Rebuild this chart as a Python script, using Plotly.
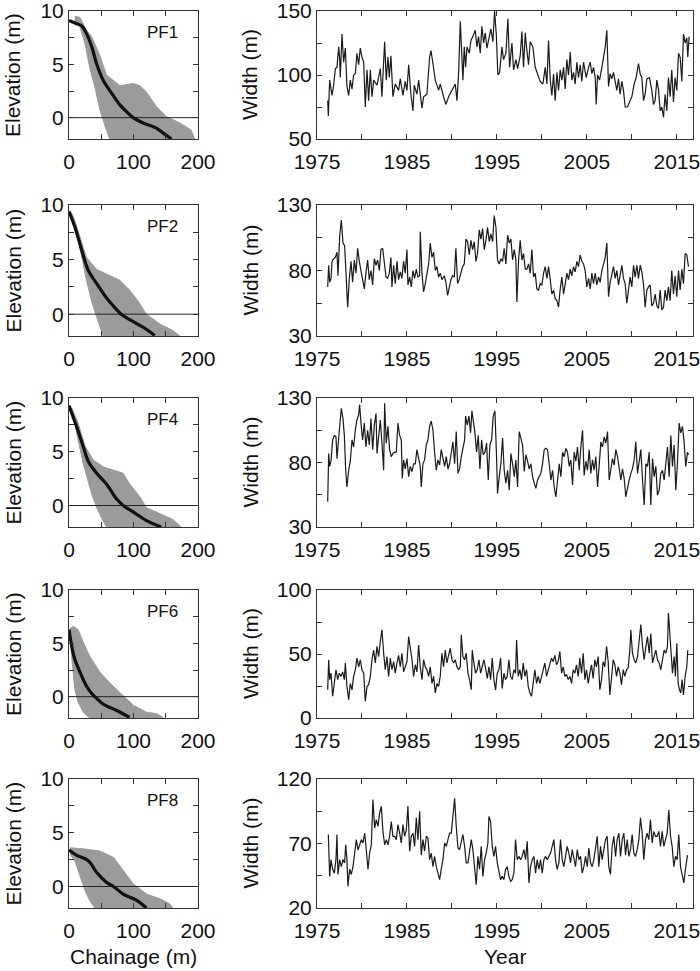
import plotly.graph_objects as go

# ---------------- Width time series (year, width m) ----------------
pf1_year = [1976.19,1976.26,1976.41,1976.67,1976.85,1977.04,1977.22,1977.41,1977.52,1977.59,1977.78,1977.96,1978.15,1978.33,1978.52,1978.70,1978.89,1979.07,1979.26,1979.44,1979.63,1979.81,1980.00,1980.19,1980.37,1980.56,1980.74,1980.93,1981.11,1981.30,1981.67,1982.04,1982.22,1982.41,1982.52,1982.70,1982.89,1983.04,1983.22,1983.44,1983.70,1984.07,1984.26,1984.56,1984.81,1985.00,1985.19,1985.44,1985.67,1985.81,1986.11,1986.30,1986.67,1986.85,1987.22,1987.52,1987.67,1987.89,1988.15,1988.52,1988.70,1989.07,1989.33,1989.63,1990.00,1990.37,1990.56,1990.74,1990.93,1991.11,1991.22,1991.37,1991.52,1991.67,1991.93,1992.11,1992.33,1992.59,1992.78,1992.96,1993.15,1993.33,1993.52,1993.70,1993.89,1994.07,1994.33,1994.56,1994.74,1994.93,1995.11,1995.30,1995.56,1995.74,1996.00,1996.22,1996.41,1996.67,1996.85,1997.11,1997.30,1997.59,1997.78,1997.96,1998.15,1998.33,1998.52,1998.70,1999.00,1999.26,1999.52,1999.81,2000.11,2000.37,2000.56,2000.74,2000.93,2001.11,2001.30,2001.48,2001.67,2001.85,2002.04,2002.22,2002.41,2002.59,2002.78,2002.96,2003.15,2003.33,2003.52,2003.70,2003.89,2004.07,2004.26,2004.44,2004.63,2004.93,2005.19,2005.37,2005.56,2005.74,2005.93,2006.04,2006.19,2006.41,2006.67,2006.85,2007.04,2007.22,2007.41,2007.59,2007.78,2007.96,2008.15,2008.33,2008.52,2008.70,2008.89,2009.07,2009.26,2009.52,2009.81,2010.00,2010.26,2010.48,2010.74,2010.93,2011.11,2011.30,2011.48,2011.67,2011.96,2012.22,2012.41,2012.59,2012.78,2012.96,2013.15,2013.33,2013.52,2013.70,2013.89,2014.07,2014.26,2014.44,2014.63,2014.81,2015.00,2015.19,2015.37,2015.56,2015.74,2015.93,2016.11,2016.22,2016.37]
pf1_width = [80,68,96,84,92,105,106,122,113,98,132,110,121,91,84,96,89,100,101,117,108,121,114,110,75,104,80,104,83,96,92,105,83,109,126,96,114,98,115,83,93,88,97,84,95,88,108,85,72,92,85,96,74,83,85,114,119,109,96,88,93,83,77,83,88,93,80,101,142,119,96,122,106,122,117,127,130,135,122,130,117,138,125,133,121,127,136,126,150,132,100,102,122,112,117,144,106,125,104,112,105,115,134,106,133,119,108,126,122,106,100,95,93,106,93,127,96,84,101,80,102,88,104,96,106,89,112,100,118,96,102,93,110,98,108,95,110,98,106,110,101,106,98,77,100,96,106,114,122,135,91,101,97,102,93,88,97,85,95,88,75,75,80,83,93,98,109,101,98,80,85,97,98,88,77,80,96,89,72,75,67,85,72,98,83,104,79,98,88,117,114,95,132,125,129,114,130]

pf2_year = [1976.19,1976.30,1976.41,1976.56,1976.67,1976.85,1977.04,1977.22,1977.33,1977.52,1977.70,1977.89,1978.07,1978.26,1978.41,1978.59,1978.78,1978.96,1979.15,1979.33,1979.52,1979.70,1979.89,1980.07,1980.26,1980.44,1980.63,1980.81,1981.00,1981.19,1981.37,1981.56,1981.74,1981.93,1982.11,1982.30,1982.48,1982.67,1982.85,1983.04,1983.22,1983.33,1983.52,1983.70,1983.89,1984.07,1984.26,1984.44,1984.63,1984.81,1985.00,1985.11,1985.30,1985.48,1985.67,1985.85,1986.04,1986.22,1986.41,1986.48,1986.67,1986.85,1987.04,1987.22,1987.41,1987.59,1987.78,1987.96,1988.15,1988.33,1988.52,1988.70,1988.89,1989.15,1989.33,1989.52,1989.70,1989.89,1990.07,1990.26,1990.44,1990.63,1990.81,1991.00,1991.19,1991.37,1991.56,1991.74,1991.93,1992.11,1992.30,1992.48,1992.67,1992.85,1993.04,1993.22,1993.41,1993.59,1993.78,1993.96,1994.15,1994.33,1994.52,1994.70,1994.89,1995.07,1995.26,1995.44,1995.63,1995.81,1996.00,1996.19,1996.37,1996.56,1996.74,1996.93,1997.11,1997.22,1997.41,1997.59,1997.78,1997.96,1998.15,1998.33,1998.52,1998.70,1998.89,1999.07,1999.26,1999.44,1999.63,1999.81,2000.00,2000.19,2000.37,2000.56,2000.74,2000.93,2001.11,2001.30,2001.48,2001.67,2001.85,2002.04,2002.22,2002.41,2002.59,2002.78,2002.96,2003.15,2003.33,2003.52,2003.70,2003.89,2004.07,2004.26,2004.44,2004.63,2004.81,2005.00,2005.19,2005.37,2005.56,2005.74,2005.93,2006.11,2006.30,2006.48,2006.67,2006.85,2007.04,2007.22,2007.41,2007.59,2007.78,2007.96,2008.15,2008.33,2008.52,2008.70,2008.89,2009.07,2009.26,2009.44,2009.63,2009.81,2010.00,2010.19,2010.37,2010.56,2010.74,2010.93,2011.11,2011.30,2011.48,2011.67,2011.85,2012.04,2012.22,2012.41,2012.59,2012.78,2012.96,2013.15,2013.33,2013.52,2013.70,2013.89,2014.07,2014.26,2014.44,2014.63,2014.81,2015.00,2015.19,2015.37,2015.56,2015.74,2015.93,2016.11,2016.30]
pf2_width = [67.5,84,71,74,87,89,90,94,76,106,118.5,101,99,65,52,74,87,71,88,78,97,87,80,75,66,78,88,73,80,69,89,84,88,80,96,97,85,75,74,78,90,67.5,84,70,87,73,79,74,87,78,96,69,75,67.5,80,74,81,75,76,109.6,78,63.7,70,79,85,101,90,94,80,83,75,78,73,76,71,61,67.5,73,76,75,97,70,73,78,83,85,104,102,92,103,96,102,87,93,111,104,112,96,103,113,102,108,102,122,113,88,85,89,87,97,85,107,101,104,88,96,88,56,88,103,88,93,81,81,85,78,96,75,78,66,65,70,69,78,83,74,83,73,62,65,58.5,57,52,66,75,62,70,78,73,81,76,83,79,87,83,92,87,85,80,67.5,74,66,78,70,78,69,75,71,80,85,90,101,60,71,76,83,74,80,69,78,84,74,70,55,67.5,75,67.5,84,75,84,74,84,79,69,52,65,67.5,69,53,55,62,53,51,65,50,52,65,57,67.5,57,80,62,76,60,80,65,81,70,93,92,83]

pf4_year = [1976.19,1976.30,1976.41,1976.56,1976.74,1976.93,1977.11,1977.22,1977.41,1977.59,1977.70,1977.89,1978.04,1978.19,1978.33,1978.52,1978.70,1978.89,1979.07,1979.26,1979.44,1979.63,1979.74,1979.89,1980.07,1980.26,1980.44,1980.63,1980.81,1981.00,1981.19,1981.37,1981.56,1981.67,1981.85,1982.04,1982.22,1982.41,1982.52,1982.70,1982.89,1983.07,1983.26,1983.44,1983.63,1983.81,1984.00,1984.19,1984.37,1984.48,1984.63,1984.81,1985.00,1985.19,1985.37,1985.56,1985.74,1985.93,1986.11,1986.30,1986.48,1986.59,1986.78,1986.96,1987.15,1987.33,1987.52,1987.70,1987.89,1988.07,1988.26,1988.44,1988.63,1988.81,1989.00,1989.19,1989.37,1989.56,1989.74,1989.93,1990.11,1990.30,1990.48,1990.67,1990.85,1991.04,1991.22,1991.41,1991.52,1991.70,1991.89,1992.07,1992.22,1992.37,1992.56,1992.74,1992.93,1993.11,1993.30,1993.48,1993.67,1993.85,1994.04,1994.22,1994.41,1994.59,1994.78,1994.96,1995.07,1995.26,1995.44,1995.63,1995.81,1996.00,1996.19,1996.37,1996.56,1996.74,1996.93,1997.11,1997.30,1997.48,1997.67,1997.85,1998.04,1998.22,1998.41,1998.59,1998.78,1998.96,1999.15,1999.33,1999.52,1999.70,1999.89,2000.07,2000.26,2000.44,2000.63,2000.81,2001.00,2001.19,2001.37,2001.56,2001.74,2001.93,2002.11,2002.30,2002.48,2002.67,2002.85,2003.04,2003.22,2003.41,2003.59,2003.78,2003.96,2004.15,2004.33,2004.52,2004.70,2004.89,2005.07,2005.26,2005.44,2005.63,2005.81,2006.00,2006.19,2006.37,2006.56,2006.74,2006.93,2007.11,2007.30,2007.48,2007.67,2007.85,2008.04,2008.22,2008.41,2008.59,2008.78,2008.96,2009.15,2009.33,2009.52,2009.70,2009.89,2010.07,2010.26,2010.44,2010.63,2010.81,2011.00,2011.19,2011.37,2011.56,2011.74,2011.93,2012.11,2012.30,2012.48,2012.67,2012.85,2013.04,2013.22,2013.41,2013.59,2013.78,2013.96,2014.15,2014.33,2014.52,2014.70,2014.89,2015.07,2015.26,2015.44,2015.63,2015.81,2016.00,2016.19,2016.30]
pf4_width = [49.5,87,77,81,97.5,101,100,83,99,113,122,114,101,74,61,74,81,97.5,92,105,113,117,125,110.5,97.5,110.5,92,105,93.6,114,90,109,118,87,103,113,95,74,126,95,108,90,84.5,87,88,88,110.5,101,97.5,67.6,82,75,83,69,77,73,79,79,90,82,77,61,79,82,93.6,97.5,108,112,105,88,74,82,78,90,82,77,84.5,75,79,87,96,79,104,71.6,75,84.5,92,97.5,116,109,116,103,120,112,103,88,101,75,97.5,86,88,95,66.4,93.6,97.5,116,120,84.5,56,69,79,99,74,64,74,58.6,87,79,69,82,61,104,97.5,93.6,73,86,81,75,79,69,64,60,66.4,69,71.6,79,90,91,90,79,66.4,74,61,53.4,69,79,69,88,84.5,91,88,77,82,62.5,88,81,92,74,92,105,70,81,74,90,71.6,82,74,84.5,61,82,96,92,99.9,95,104,66.4,74,83,78,90,84.5,74,66.4,75,67.6,53.4,61,66.4,71.6,75,82,96,71.6,79,90,66.4,47,79,77,88,47,83,69,77,54.7,58.6,71.6,74,66.4,79,92,69,101,77,93.6,58.6,79,110.5,103,108,96,77,88,86]

pf6_year = [1976.19,1976.30,1976.41,1976.56,1976.74,1976.93,1977.11,1977.30,1977.48,1977.67,1977.85,1978.04,1978.15,1978.33,1978.52,1978.70,1978.89,1979.07,1979.26,1979.44,1979.63,1979.81,1980.00,1980.19,1980.37,1980.56,1980.74,1980.93,1981.11,1981.30,1981.48,1981.67,1981.85,1982.04,1982.22,1982.41,1982.59,1982.78,1982.96,1983.15,1983.33,1983.52,1983.70,1983.89,1984.07,1984.26,1984.44,1984.63,1984.81,1985.00,1985.19,1985.37,1985.56,1985.74,1985.93,1986.11,1986.30,1986.48,1986.67,1986.85,1987.04,1987.22,1987.41,1987.59,1987.78,1987.96,1988.15,1988.33,1988.52,1988.70,1988.89,1989.07,1989.26,1989.44,1989.63,1989.81,1990.00,1990.19,1990.37,1990.56,1990.74,1990.93,1991.04,1991.22,1991.41,1991.59,1991.78,1991.96,1992.15,1992.26,1992.44,1992.63,1992.81,1993.00,1993.19,1993.37,1993.56,1993.74,1993.93,1994.11,1994.30,1994.48,1994.67,1994.85,1995.04,1995.22,1995.41,1995.59,1995.78,1995.96,1996.15,1996.33,1996.52,1996.70,1996.89,1997.07,1997.19,1997.37,1997.56,1997.74,1997.93,1998.11,1998.30,1998.48,1998.67,1998.85,1999.04,1999.22,1999.41,1999.59,1999.78,1999.96,2000.15,2000.33,2000.52,2000.70,2000.89,2001.07,2001.26,2001.44,2001.63,2001.81,2002.00,2002.19,2002.37,2002.56,2002.74,2002.93,2003.11,2003.30,2003.48,2003.67,2003.85,2004.04,2004.22,2004.41,2004.59,2004.78,2004.96,2005.15,2005.33,2005.52,2005.70,2005.89,2006.07,2006.26,2006.44,2006.63,2006.81,2007.00,2007.19,2007.37,2007.56,2007.74,2007.93,2008.11,2008.30,2008.48,2008.67,2008.85,2009.04,2009.22,2009.41,2009.59,2009.78,2009.89,2010.07,2010.26,2010.44,2010.63,2010.81,2011.00,2011.19,2011.37,2011.56,2011.74,2011.93,2012.11,2012.30,2012.48,2012.67,2012.85,2013.04,2013.22,2013.41,2013.59,2013.78,2013.96,2014.07,2014.22,2014.37,2014.52,2014.70,2014.85,2015.00,2015.15,2015.30,2015.44,2015.59,2015.74,2015.93,2016.11,2016.22]
pf6_width = [22,45.5,30,35,17,27,37.7,30,35,32.5,36,30,43,24.7,14.3,27,22,32.5,37.7,46.8,40,45.5,37.7,35,13,24.7,26,32.5,45.5,53,43,56,48,60,69,50.6,37.7,48,32.5,46.8,37.7,44,35,43,49,40,50.6,36,40,44,63.6,56,45.5,32.5,41.6,36,57,40,30,45.5,40,37.7,32.5,40,27,32.5,19.5,27,24.7,32.5,50.6,40,53,43,48,54.5,45.5,43,45.5,40,37.7,40,65,48,45.5,50.6,35,30,22,53,43,35,37.7,45.5,35,40,45.5,39,31,40,30,46.8,30,22,35,37.7,46.8,23,35,30,32.5,45.5,32.5,30,37.7,35,61,32.5,37.7,30,43,32.5,37.7,24.7,19.5,17,30,37.7,27,32.5,27,32.5,37.7,43,32.5,37.7,43,46.8,44,49,41.6,44,52,35,40,32.5,34,30,32.5,27,37.7,35,41.6,32.5,46.8,35,50.6,30,37.7,27,35,41.6,31,45.5,40,48,22,30,44,40,56,44,18,32.5,45.5,41.6,32.5,40,35,26,37.7,32.5,37.7,39,53,69,50.6,45.5,43,48,63.6,73,56,45.5,56,63.6,50.6,66,43,48,53,45.5,43,37.7,45.5,53,50.6,56,82,63.6,50.6,35,48,32.5,58.4,27,22,19.5,30,18,32.5,40,53]

pf8_year = [1976.26,1976.33,1976.41,1976.56,1976.74,1976.93,1977.11,1977.22,1977.33,1977.52,1977.70,1977.89,1978.07,1978.19,1978.33,1978.44,1978.63,1978.81,1979.00,1979.19,1979.37,1979.56,1979.74,1979.93,1980.11,1980.30,1980.48,1980.67,1980.85,1981.04,1981.22,1981.41,1981.59,1981.78,1981.96,1982.15,1982.33,1982.52,1982.70,1982.89,1983.07,1983.26,1983.44,1983.63,1983.81,1984.00,1984.19,1984.37,1984.56,1984.74,1984.93,1985.11,1985.30,1985.48,1985.67,1985.85,1986.04,1986.22,1986.41,1986.59,1986.78,1986.96,1987.15,1987.33,1987.52,1987.70,1987.89,1988.07,1988.26,1988.44,1988.63,1988.81,1989.00,1989.19,1989.37,1989.56,1989.74,1989.93,1990.11,1990.30,1990.48,1990.67,1990.85,1991.04,1991.22,1991.41,1991.59,1991.78,1991.96,1992.15,1992.33,1992.52,1992.70,1992.89,1993.07,1993.26,1993.44,1993.63,1993.81,1994.00,1994.11,1994.30,1994.48,1994.67,1994.85,1995.04,1995.22,1995.41,1995.59,1995.78,1995.96,1996.15,1996.33,1996.52,1996.70,1996.89,1997.07,1997.26,1997.44,1997.63,1997.81,1998.00,1998.19,1998.37,1998.56,1998.74,1998.93,1999.11,1999.30,1999.48,1999.67,1999.85,2000.04,2000.22,2000.41,2000.59,2000.78,2000.96,2001.15,2001.33,2001.52,2001.70,2001.89,2002.07,2002.26,2002.44,2002.63,2002.81,2003.00,2003.19,2003.37,2003.56,2003.74,2003.93,2004.11,2004.30,2004.48,2004.67,2004.85,2005.04,2005.22,2005.41,2005.59,2005.78,2005.96,2006.15,2006.33,2006.52,2006.70,2006.89,2007.07,2007.26,2007.44,2007.63,2007.81,2008.00,2008.19,2008.37,2008.56,2008.74,2008.93,2009.11,2009.30,2009.48,2009.67,2009.85,2010.04,2010.22,2010.41,2010.59,2010.78,2010.96,2011.15,2011.33,2011.52,2011.70,2011.89,2012.07,2012.26,2012.44,2012.63,2012.81,2013.00,2013.19,2013.37,2013.56,2013.74,2013.93,2014.11,2014.30,2014.48,2014.67,2014.85,2015.04,2015.22,2015.41,2015.59,2015.78,2015.96,2016.19]
pf8_width = [77,50,44.5,57.5,50,47,57.5,77,46,57.5,52,57.5,55,69,57.5,36.8,50,46,52,62.6,73,65,69,73,70.4,78,65,50,62.6,69,104,82,88.5,83.3,93.6,98.8,79.4,69,73,69,75.6,87,75.6,75.6,73,84.6,78,70.4,84.6,75.6,80.7,99,64,75.6,78,67.8,90,73,95,61,73,64,75.6,74.3,57.5,62.6,52,60,52,46,42,50,57.5,70.4,67.8,73,78,78,91,105,83.3,66.5,65.2,73,77,67.8,55,55,62.6,73,65.2,50,38,60,50,67.8,44.5,57.5,62.6,70.4,91,87,67.8,60,67.8,55,47,42,44.5,42,50,52,44.5,40.7,42,47,73,57.5,60,57.5,60,65.2,57.5,71.7,39.4,52,57.5,60,47,57.5,50,57.5,47,57.5,60,57.5,60,62.6,67.8,73,57.5,50,55,73,57.5,52,60,67.8,62.6,55,65.2,57.5,52,65.2,57.5,60,47,52,60,52,66.5,55,52,57.5,65.2,75.6,52,67.8,57.5,65.2,73,75.6,52,46,67.8,75.6,60,73,78,60,73,78,61,73,60,65.2,77,62.6,60,65.2,73,90,78,57.5,73,78,73,88.5,70.4,79.4,75.6,75.6,79.4,67.8,79.4,67.8,73,78,96,75.6,67.8,52,60,57.5,77,52,46,39.4,50,61]

# ---------------- Beach profiles (chainage m, elevation m) ----------------
pf1_mean_x = [0, 12, 20, 27, 35, 43, 53, 66, 79, 92, 99.5, 115, 136, 146, 159]
pf1_mean_z = [9.1, 8.8, 8.6, 7.9, 6.7, 5.0, 3.5, 2.3, 1.2, 0.4, 0, -0.5, -1.0, -1.45, -2]
pf1_up_x = [9, 17, 25, 35, 48, 58, 79, 99.5, 110, 120, 136, 151, 172, 189, 195]
pf1_up_z = [9.5, 9.4, 8.4, 7.6, 5.8, 4.0, 3.0, 3.2, 3.0, 2.4, 1.0, 0.1, -0.5, -1.15, -2]
pf1_lo_x = [9, 17, 25, 32, 40, 48, 56, 63]
pf1_lo_z = [9.1, 8.5, 6.9, 4.7, 2.9, 0.7, -0.8, -2]

pf2_mean_x = [0, 9, 20, 30, 43, 58, 71, 81, 97, 115, 133]
pf2_mean_z = [9.4, 8.0, 5.8, 4.0, 2.8, 1.5, 0.6, 0, -0.6, -1.2, -1.95]
pf2_up_x = [1.5, 7, 17, 27, 43, 58, 79, 94, 107, 120, 141, 161, 172]
pf2_up_z = [9.5, 8.9, 7.1, 5.2, 4.1, 3.7, 3.1, 2.2, 1.2, 0, -0.9, -1.5, -2]
pf2_lo_x = [1.5, 12, 22, 27, 35, 43, 48, 53]
pf2_lo_z = [9.1, 7.4, 4.6, 3.1, 1.2, -0.3, -1.2, -2]

pf4_mean_x = [0, 12, 22, 30, 43, 58, 74, 84, 99.5, 120, 143]
pf4_mean_z = [9.3, 7.3, 5.5, 4.1, 3.0, 2.0, 0.6, 0, -0.6, -1.4, -2]
pf4_up_x = [4, 14, 25, 38, 53, 69, 84, 94, 110, 120, 141, 161, 174]
pf4_up_z = [9.1, 7.7, 5.5, 4.2, 3.6, 3.3, 3.0, 2.0, 0.8, -0.2, -0.8, -1.3, -2]
pf4_lo_x = [4, 12, 22, 27, 35, 43, 50, 58]
pf4_lo_z = [9.0, 6.7, 3.9, 2.7, 1.1, -0.2, -1.1, -2]

pf6_mean_x = [0, 4, 9, 17, 27, 38, 40, 53, 74, 94]
pf6_mean_z = [6.3, 4.8, 3.5, 2.3, 1.0, 0.1, 0, -0.7, -1.3, -1.95]
pf6_up_x = [1.5, 7, 14, 22, 32, 48, 63, 79, 99.5, 120, 136, 146]
pf6_up_z = [6.4, 6.6, 6.3, 5.1, 3.8, 2.3, 1.3, 0.4, -0.8, -1.45, -1.6, -1.95]
pf6_lo_x = [1.5, 4, 9, 14, 22, 32]
pf6_lo_z = [6.2, 3.8, 0.7, -0.5, -1.45, -2]

pf8_mean_x = [0, 12, 30, 43, 58, 69, 84, 105, 120]
pf8_mean_z = [3.4, 2.9, 2.4, 1.3, 0.4, 0, -0.7, -1.3, -2]
pf8_up_x = [1.5, 22, 48, 69, 84, 99.5, 120, 141, 156, 161]
pf8_up_z = [3.6, 3.5, 3.3, 2.7, 1.5, 0.25, -0.7, -1.15, -1.6, -2]
pf8_lo_x = [1.5, 9, 17, 25, 32, 40]
pf8_lo_z = [3.0, 2.4, 0.9, -0.4, -1.3, -2]

profile_names = ["PF1", "PF2", "PF4", "PF6", "PF8"]
zero_line_x = [0, 200]
zero_line_z = [0, 0]

series = [(pf1_year, pf1_width), (pf2_year, pf2_width), (pf4_year, pf4_width),
          (pf6_year, pf6_width), (pf8_year, pf8_width)]
profiles = [
    (pf1_mean_x, pf1_mean_z, pf1_up_x, pf1_up_z, pf1_lo_x, pf1_lo_z),
    (pf2_mean_x, pf2_mean_z, pf2_up_x, pf2_up_z, pf2_lo_x, pf2_lo_z),
    (pf4_mean_x, pf4_mean_z, pf4_up_x, pf4_up_z, pf4_lo_x, pf4_lo_z),
    (pf6_mean_x, pf6_mean_z, pf6_up_x, pf6_up_z, pf6_lo_x, pf6_lo_z),
    (pf8_mean_x, pf8_mean_z, pf8_up_x, pf8_up_z, pf8_lo_x, pf8_lo_z),
]
width_ticks = [[50, 75, 100, 125, 150], [30, 55, 80, 105, 130], [30, 55, 80, 105, 130],
               [0, 25, 50, 75, 100], [20, 45, 70, 95, 120]]
elev_ticks = [0, 2.5, 5, 7.5, 10]
chain_ticks = [0, 50, 100, 150, 200]
year_ticks = [1975, 1980, 1985, 1990, 1995, 2000, 2005, 2010, 2015]

# ---------------- layout geometry ----------------
W, H = 700, 971
FONT = "Liberation Sans, Arial, Helvetica, sans-serif"
FS = 21
rows_px = [(11, 139), (205, 336), (398, 527), (590, 718), (779, 908)]
left_px = (69, 198)
right_px = (317, 693)

fig = go.Figure()
layout = dict(
    width=W, height=H, margin=dict(l=0, r=0, t=0, b=0, pad=0, autoexpand=False),
    paper_bgcolor="white", plot_bgcolor="white", showlegend=False,
    font=dict(family=FONT, size=FS, color="#111"),
)
annotations = []

def ax_common():
    return dict(showline=True, linecolor="#333", linewidth=1, mirror="ticks",
                ticks="inside", ticklen=5, tickcolor="#333", tickwidth=1,
                showgrid=False, zeroline=False, automargin=False,
                ticklabeloverflow="allow",
                tickfont=dict(family=FONT, size=FS, color="#111"))

for i in range(5):
    top, bot = rows_px[i]
    ydom = [1 - bot / H, 1 - top / H]
    nl = 2 * i + 1
    nr = 2 * i + 2
    xl = ax_common()
    xl.update(domain=[left_px[0] / W, left_px[1] / W], range=[0, 200], anchor=f"y{nl}",
              tickvals=chain_ticks, ticktext=["0", "", "100", "", "200"],
              ticklabelstandoff=4)
    yl = ax_common()
    yl.update(domain=ydom, range=[-2, 10], anchor=f"x{nl}",
              tickvals=elev_ticks, ticktext=["0", "", "5", "", "10"])
    xr = ax_common()
    xr.update(domain=[right_px[0] / W, right_px[1] / W], range=[1975, 2016.8], anchor=f"y{nr}",
              tickvals=year_ticks,
              ticktext=[str(y) if (y - 1975) % 10 == 0 else "" for y in year_ticks],
              ticklabelstandoff=4)
    yr = ax_common()
    wt = width_ticks[i]
    yr.update(domain=ydom, range=[wt[0], wt[-1]], anchor=f"x{nr}",
              tickvals=wt, ticktext=[str(wt[0]), "", str(wt[2]), "", str(wt[4])])
    layout["xaxis" + ("" if nl == 1 else str(nl))] = xl
    layout["yaxis" + ("" if nl == 1 else str(nl))] = yl
    layout["xaxis" + str(nr)] = xr
    layout["yaxis" + str(nr)] = yr

    mx, mz, ux, uz, lx, lz = profiles[i]
    xa_l = "x" if nl == 1 else f"x{nl}"
    ya_l = "y" if nl == 1 else f"y{nl}"
    fig.add_trace(go.Scatter(x=ux + lx[::-1], y=uz + lz[::-1], mode="lines",
                             fill="toself", fillcolor="#9b9b9b",
                             line=dict(color="#9b9b9b", width=1),
                             xaxis=xa_l, yaxis=ya_l, hoverinfo="skip"))
    fig.add_trace(go.Scatter(x=zero_line_x, y=zero_line_z, mode="lines",
                             line=dict(color="#222", width=1), xaxis=xa_l, yaxis=ya_l))
    fig.add_trace(go.Scatter(x=mx, y=mz, mode="lines",
                             line=dict(color="#111", width=3.2, shape="spline"),
                             xaxis=xa_l, yaxis=ya_l))
    annotations.append(dict(x=145, y=8.0, xref=xa_l, yref=ya_l, text=profile_names[i],
                            showarrow=False, font=dict(family=FONT, size=17, color="#111")))

    yx, yw = series[i]
    fig.add_trace(go.Scatter(x=yx, y=yw, mode="lines", line=dict(color="#1a1a1a", width=1.2),
                             xaxis=f"x{nr}", yaxis=f"y{nr}"))

    yc = 1 - (top + bot) / 2 / H
    annotations.append(dict(x=13 / W, y=yc, xref="paper", yref="paper", text="Elevation (m)",
                            textangle=-90, showarrow=False, xanchor="center", yanchor="middle",
                            font=dict(family=FONT, size=FS, color="#111")))
    annotations.append(dict(x=250 / W, y=yc, xref="paper", yref="paper", text="Width (m)",
                            textangle=-90, showarrow=False, xanchor="center", yanchor="middle",
                            font=dict(family=FONT, size=FS, color="#111")))

annotations.append(dict(x=133 / W, y=1 - 956 / H, xref="paper", yref="paper", text="Chainage (m)",
                        showarrow=False, xanchor="center", yanchor="middle",
                        font=dict(family=FONT, size=FS, color="#111")))
annotations.append(dict(x=505 / W, y=1 - 956 / H, xref="paper", yref="paper", text="Year",
                        showarrow=False, xanchor="center", yanchor="middle",
                        font=dict(family=FONT, size=FS, color="#111")))
layout["annotations"] = annotations
fig.update_layout(**layout)
# remove the default page margin so the figure sits at the window's top-left corner
fig.write_html("out.html", config={"displayModeBar": False},
               post_script="document.body.style.margin='0';document.body.style.overflow='hidden';")
